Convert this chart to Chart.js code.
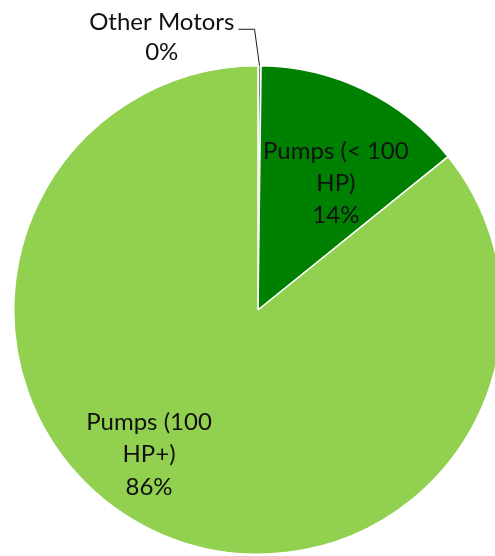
<!DOCTYPE html>
<html>
<head>
<meta charset="utf-8">
<script src="https://cdn.jsdelivr.net/npm/chart.js@4"></script>
<style>
  html, body { margin: 0; padding: 0; background: #fff; overflow: hidden; }
  #wrap { width: 495px; height: 556px; overflow: hidden; }
</style>
</head>
<body>
<div id="wrap"><canvas id="pieChart" width="520" height="556"></canvas></div>
<script>
// chart data
const categories = ['Other Motors', 'Pumps (< 100 HP)', 'Pumps (100 HP+)'];
const shares = [0.2, 14, 85.8];
const shownPercent = ['0%', '14%', '86%'];
const sliceColors = ['#7f7f7f', '#008000', '#92D050'];

// label lines as they wrap in the picture
const labelLines = [
    ['Other Motors', shownPercent[0]],
    ['Pumps (< 100', 'HP)', shownPercent[1]],
    ['Pumps (100', 'HP+)', shownPercent[2]]
];
// where each label sits: angle from 12 o'clock (deg) and distance as share of radius
const labelPlace = [
    { angle: 340.6, dist: 1.186, lineH: 30, leader: true },
    { angle: 31.4, dist: 0.612, lineH: 32 },
    { angle: 217.2, dist: 0.738, lineH: 32.5 }
];

const pieLabels = {
    id: 'pieLabels',
    afterDatasetsDraw(chart) {
        const ctx = chart.ctx;
        const arcs = chart.getDatasetMeta(0).data;
        const capHalf = 8.5;
        ctx.save();
        ctx.font = '24px Lato, "Open Sans", sans-serif';
        ctx.fillStyle = '#111111';
        ctx.textAlign = 'center';
        ctx.textBaseline = 'alphabetic';
        arcs.forEach((arc, i) => {
            const p = arc.getProps(['x', 'y', 'outerRadius', 'startAngle', 'endAngle'], true);
            const place = labelPlace[i];
            const a = (place.angle - 90) * Math.PI / 180;
            const cx = p.x + Math.cos(a) * p.outerRadius * place.dist;
            const cy = p.y + Math.sin(a) * p.outerRadius * place.dist;
            const lines = labelLines[i];
            const top = cy - (lines.length - 1) * place.lineH / 2;
            lines.forEach((t, k) => ctx.fillText(t, cx, top + k * place.lineH + capHalf));
            if (place.leader) {
                const mid = (p.startAngle + p.endAngle) / 2;
                const ex = p.x + Math.cos(mid) * p.outerRadius;
                const ey = p.y + Math.sin(mid) * p.outerRadius;
                const w = ctx.measureText(lines[0]).width;
                ctx.strokeStyle = '#1a1a1a';
                ctx.lineWidth = 1;
                ctx.beginPath();
                ctx.moveTo(cx + w / 2 + 4, top + capHalf - 1);
                ctx.lineTo(ex - 5, top + capHalf - 1);
                ctx.lineTo(ex, ey);
                ctx.stroke();
            }
        });
        ctx.restore();
    }
};

new Chart(document.getElementById('pieChart'), {
    type: 'pie',
    data: {
        labels: categories,
        datasets: [{
            data: shares,
            backgroundColor: sliceColors,
            borderColor: '#ffffff',
            borderWidth: 1.5
        }]
    },
    options: {
        responsive: false,
        animation: false,
        layout: { padding: { left: 13, right: 17, top: 65, bottom: 1 } },
        plugins: {
            legend: { display: false },
            tooltip: { enabled: false }
        }
    },
    plugins: [pieLabels]
});
</script>
</body>
</html>
